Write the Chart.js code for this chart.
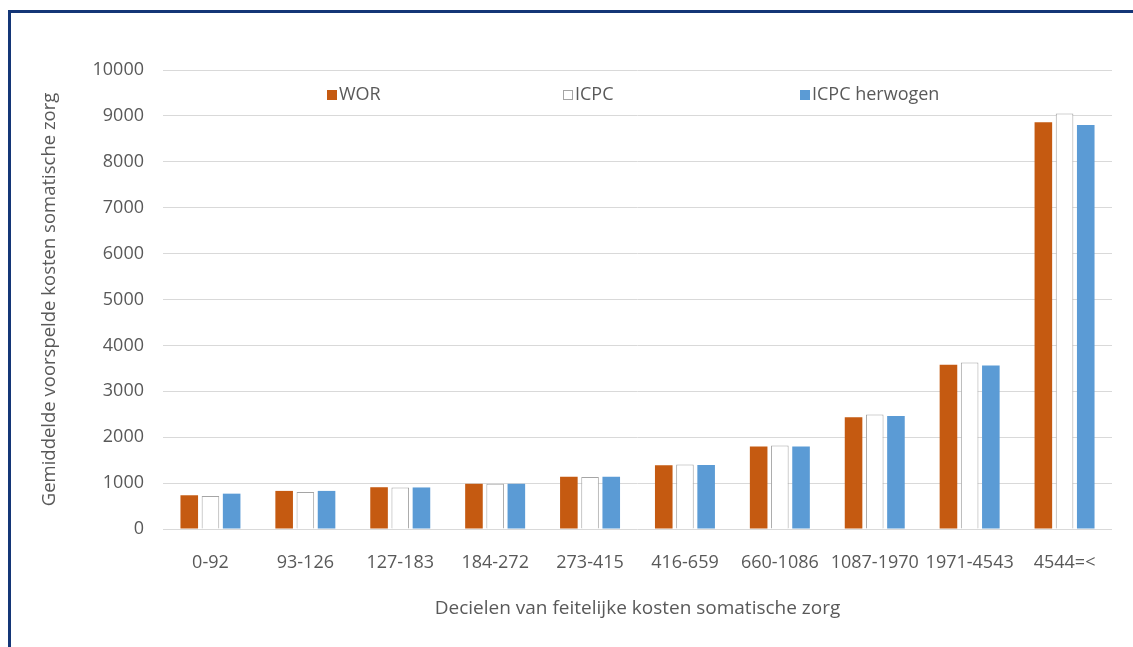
<!DOCTYPE html>
<html>
<head>
<meta charset="utf-8">
<script src="https://cdn.jsdelivr.net/npm/chart.js@4"></script>
<style>
  html, body { margin: 0; padding: 0; background: #fff; overflow: hidden; }
  #frame {
    position: absolute; left: 8px; top: 10px; width: 1200px; height: 700px;
    border-top: 3px solid #143677; border-left: 3px solid #143677;
  }
  #wrap { position: absolute; left: 0; top: 0; width: 1133px; height: 647px; }
</style>
</head>
<body>
<div id="frame"></div>
<div id="wrap"><canvas id="chart"></canvas></div>
<script>
// data
const categories = ['0-92', '93-126', '127-183', '184-272', '273-415', '416-659', '660-1086', '1087-1970', '1971-4543', '4544=<'];
const wor = [735, 830, 910, 985, 1140, 1390, 1800, 2435, 3580, 8860];
const icpc = [720, 805, 905, 985, 1135, 1405, 1820, 2495, 3630, 9050];
const icpcHerwogen = [770, 830, 905, 985, 1140, 1395, 1800, 2460, 3560, 8800];
const yTicks = [0, 1000, 2000, 3000, 4000, 5000, 6000, 7000, 8000, 9000, 10000];

const textColor = '#595959';
const fontFamily = '"Open Sans", Lato, sans-serif';

// legend inside the plot, like the Excel original
const legendSpots = [327, 563, 800];
const innerLegend = {
  id: 'innerLegend',
  afterDraw(chart) {
    const ctx = chart.ctx;
    const y = 95;
    ctx.save();
    ctx.font = '18px ' + fontFamily;
    ctx.textBaseline = 'middle';
    chart.data.datasets.forEach((ds, i) => {
      const x = legendSpots[i];
      ctx.fillStyle = ds.backgroundColor;
      ctx.fillRect(x, y - 5, 10, 10);
      if (ds.borderWidth) {
        ctx.strokeStyle = ds.borderColor;
        ctx.lineWidth = 1;
        ctx.strokeRect(x + 0.5, y - 4.5, 9, 9);
      }
      ctx.fillStyle = textColor;
      ctx.fillText(ds.label, x + 12, y);
    });
    ctx.restore();
  }
};

new Chart(document.getElementById('chart'), {
  type: 'bar',
  data: {
    labels: categories,
    datasets: [
      { label: 'WOR', data: wor, backgroundColor: '#c55a11', borderWidth: 0 },
      { label: 'ICPC', data: icpc, backgroundColor: '#ffffff', borderColor: '#a5a5a5', borderWidth: 1 },
      { label: 'ICPC herwogen', data: icpcHerwogen, backgroundColor: '#5b9bd5', borderWidth: 0 }
    ]
  },
  options: {
    responsive: true,
    maintainAspectRatio: false,
    animation: false,
    categoryPercentage: 0.67,
    barPercentage: 0.83,
    layout: { padding: { top: 70, right: 21, left: 0, bottom: 0 } },
    plugins: {
      legend: { display: false },
      tooltip: { enabled: false }
    },
    scales: {
      x: {
        grid: { display: false },
        border: { display: false },
        ticks: {
          color: textColor,
          font: { family: fontFamily, size: 18 },
          padding: 15,
          maxRotation: 0,
          minRotation: 0,
          autoSkip: false
        },
        title: {
          display: true,
          text: 'Decielen van feitelijke kosten somatische zorg',
          color: textColor,
          font: { family: fontFamily, size: 19 },
          padding: { top: 0, bottom: 27 }
        },
        afterFit: (scale) => { scale.height = 118; }
      },
      y: {
        min: 0,
        max: 10000,
        afterBuildTicks: (scale) => { scale.ticks = yTicks.map(v => ({ value: v })); },
        grid: { color: '#d9d9d9', drawTicks: false },
        border: { display: false },
        ticks: {
          color: textColor,
          font: { family: fontFamily, size: 18 },
          padding: 19,
          callback: (v) => String(v)
        },
        title: {
          display: true,
          text: 'Gemiddelde voorspelde kosten somatische zorg',
          color: textColor,
          font: { family: fontFamily, size: 18.5 },
          padding: { top: 39, bottom: 0 }
        },
        afterFit: (scale) => { scale.width = 163; }
      }
    }
  },
  plugins: [innerLegend]
});
</script>
</body>
</html>
